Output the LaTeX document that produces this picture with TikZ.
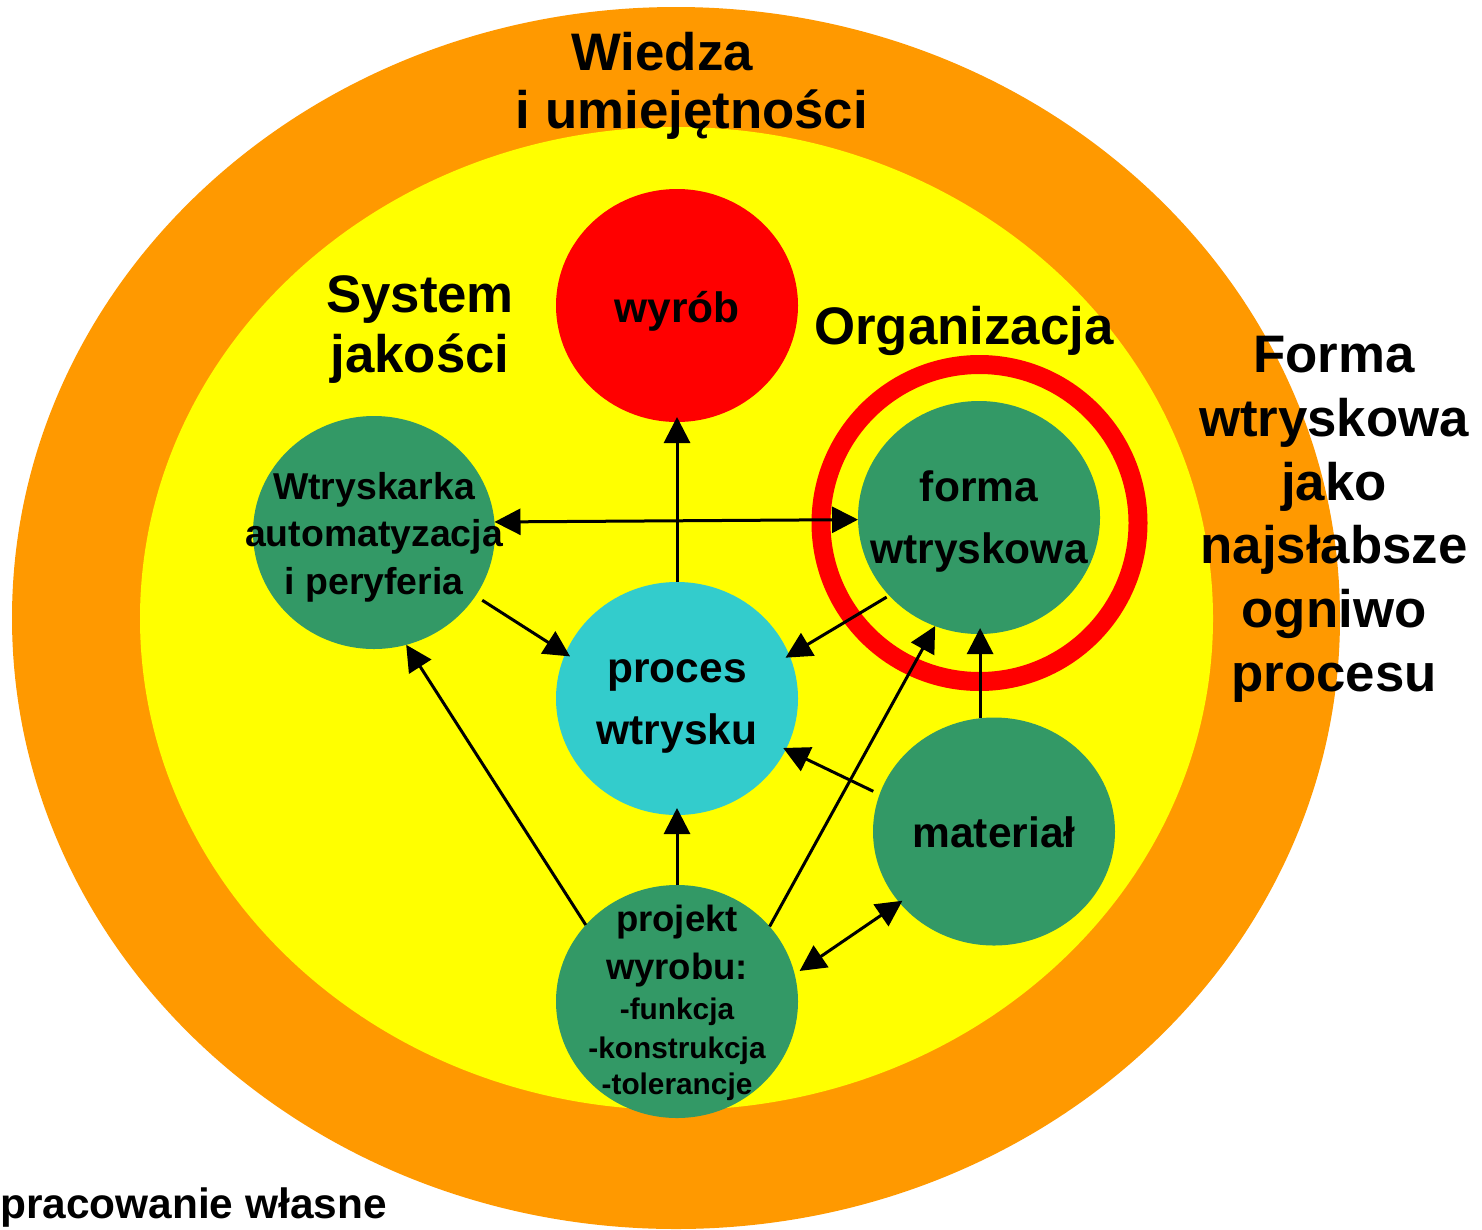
\documentclass[tikz,border=0pt]{standalone}
\usepackage{fontspec}
\setmainfont{Liberation Sans}
\usetikzlibrary{shapes.geometric,arrows.meta}

\definecolor{outerorange}{HTML}{FF9900}
\definecolor{inneryellow}{HTML}{FFFF00}
\definecolor{discgreen}{HTML}{339966}
\definecolor{disccyan}{HTML}{33CCCC}
\definecolor{discred}{HTML}{FF0000}

% font size with explicit line spacing
\newcommand\fsz[2]{\fontsize{#1}{#2}\selectfont}

\begin{document}
\begin{tikzpicture}[x=1pt,y=-1pt,
  disc/.style={ellipse, inner sep=0pt, outer sep=0pt,
               minimum width=242pt, minimum height=233pt},
  bigtext/.style={font=\bfseries\fsz{52.8}{60}, inner sep=0pt},
  disctext/.style={font=\bfseries\fsz{42.5}{62}, inner sep=0pt},
  link/.style={line width=3pt, -{Triangle[length=26pt,width=26pt]}},
  twoway/.style={line width=3pt,
                 {Triangle[length=26pt,width=26pt]}-{Triangle[length=26pt,width=26pt]}}
]
\useasboundingbox (0,0) rectangle (1482,1229);
\fill[white] (0,0) rectangle (1482,1229);

% background fields
\node[ellipse, fill=outerorange, inner sep=0pt,
      minimum width=1328pt, minimum height=1222pt] (knowledge) at (676,618) {};
\node[ellipse, fill=inneryellow, inner sep=0pt,
      minimum width=1073pt, minimum height=983pt] (company) at (676.5,618.5) {};

% highlight ring round the mould
\node[circle, draw=discred, line width=19pt, inner sep=0pt,
      minimum size=317pt] (ring) at (979.5,523) {};

% discs
\node[disc, fill=discred] (wyrob) at (677,305.5) {};
\node[disc, fill=discgreen] (wtr) at (374,532.5) {};
\node[disc, fill=discgreen] (forma) at (979,517.5) {};
\node[disc, fill=disccyan] (proces) at (677,698.5) {};
\node[disc, fill=discgreen, minimum height=228pt] (material) at (994,831.5) {};
\node[disc, fill=discgreen] (projekt) at (677,1001.5) {};

% titles
\node[bigtext, anchor=base] (t-wiedza) at (662,70) {Wiedza};
\node[bigtext, anchor=base] (t-umiej) at (692,128) {i umiejętności};
\node[bigtext, align=center] (t-system) at (420,329.5) {System\\jakości};
\node[bigtext, anchor=base] (t-org) at (964,344) {Organizacja};
\node[bigtext, font=\bfseries\fsz{52.8}{63.8}, align=center] (t-weak) at (1334,519.4)
  {Forma\\wtryskowa\\jako\\najsłabsze\\ogniwo\\procesu};

% disc labels
\node[disctext, anchor=base] (t-wyrob) at (677,322) {wyrób};
\node[disctext, font=\bfseries\fsz{37.4}{47.5}, align=center] (t-wtr) at (374,537.2)
  {Wtryskarka\\automatyzacja\\i peryferia};
\node[disctext, align=center] (t-forma) at (979,521.2) {forma\\wtryskowa};
\node[disctext, align=center] (t-proces) at (677,706.3) {proces\\wtrysku};
\node[disctext, anchor=base] (t-material) at (994,847) {materiał};
\node[disctext, font=\bfseries\fsz{36.5}{36}, align=center] (t-projekt) at (677,1002.5)
  {\fsz{36.5}{36}projekt\\[12pt]\fsz{36.5}{36}wyrobu:\\[4pt]\fsz{29.8}{36}-funkcja\\[3pt]%
   \fsz{29.8}{36}-konstrukcja\\\fsz{29.8}{36}-tolerancje};

% source note
\node[font=\bfseries\fsz{42.4}{42}, anchor=base west, inner sep=0pt] (t-source)
  at (0,1218) {pracowanie własne};

% connectors
\draw[link, shorten >=-5pt] (proces.north) -- (wyrob.south);
\draw[twoway] (wtr.5.3) -- (forma.181.7);
\draw[link, shorten <=8pt, shorten >=-5.5pt] (wtr.-32) -- (proces.158.8);
\draw[link, shorten <=3pt, shorten >=-4.5pt] (forma.221.5) -- (proces.21);
\draw[link, shorten >=-6pt] (material.97) -- (material.97 |- forma.south);
\draw[link, shorten <=7pt, shorten >=-3pt] (material.162.3) -- (proces.-25);
\draw[link, shorten >=-7pt] (projekt.north) -- (proces.south);
\draw[link] (projekt.140.9) -- (wtr.-74.3);
\draw[link] (projekt.39.4) -- (forma.248.1);
\draw[twoway, shorten <=6pt, shorten >=-3.5pt] (projekt.13.5) -- (material.217);
\end{tikzpicture}
\end{document}
